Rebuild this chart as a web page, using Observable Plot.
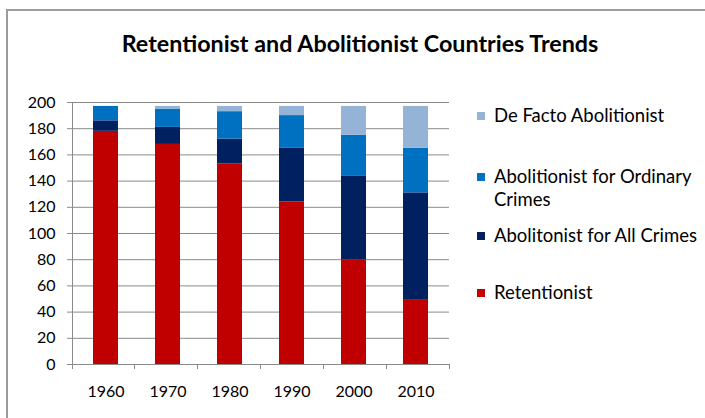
<!DOCTYPE html>
<html>
<head>
<meta charset="utf-8">
<script src="https://cdn.jsdelivr.net/npm/d3@7"></script>
<script src="https://cdn.jsdelivr.net/npm/@observablehq/plot@0.6"></script>
<style>
  html, body { margin: 0; padding: 0; background: #fff; }
  #wrap { position: relative; width: 705px; height: 418px; overflow: hidden; font-family: Lato, "Open Sans", sans-serif; color: #000; }
  #frame { position: absolute; left: 6px; top: 9px; width: 800px; height: 500px; border-left: 2px solid #9c9c9c; border-top: 2px solid #9c9c9c; }
  #title { position: absolute; left: 0; top: 28px; width: 720px; text-align: center; font-weight: bold; font-size: 23.3px; line-height: 30px; }
  #chart { position: absolute; left: 0; top: 0; }
  #legend { position: absolute; left: 476px; top: 104px; font-size: 18.5px; line-height: 23px; }
  .item { position: relative; padding-left: 18px; white-space: nowrap; }
  .item .sw { position: absolute; left: 1px; top: 7.5px; width: 8px; height: 8px; }
  .item:nth-child(2) { margin-top: 38px; }
  .item:nth-child(3) { margin-top: 13px; }
  .item:nth-child(4) { margin-top: 34px; }
</style>
</head>
<body>
<div id="wrap">
  <div id="frame"></div>
  <div id="chart"></div>
  <div id="title"></div>
  <div id="legend"></div>
</div>
<script>
// ---- data ----
const title = "Retentionist and Abolitionist Countries Trends";
const years = ["1960", "1970", "1980", "1990", "2000", "2010"];
const retentionist = [178, 168, 153, 124, 80, 49];
const abolitionistAll = [8, 13, 19, 41, 64, 82];
const abolitionistOrdinary = [11, 14, 21, 25, 31, 34];
const deFacto = [0, 2, 4, 7, 22, 32];
const seriesNames = ["Retentionist", "Abolitonist for All Crimes", "Abolitionist for Ordinary Crimes", "De Facto Abolitionist"];
const seriesValues = [retentionist, abolitionistAll, abolitionistOrdinary, deFacto];
const seriesColors = ["#C00000", "#002060", "#0070C0", "#95B3D7"];
const legendOrder = ["De Facto Abolitionist", "Abolitionist for Ordinary Crimes", "Abolitonist for All Crimes", "Retentionist"];
const legendLabels = ["De Facto Abolitionist", "Abolitionist for Ordinary<br>Crimes", "Abolitonist for All Crimes", "Retentionist"];
const yTicks = [0, 20, 40, 60, 80, 100, 120, 140, 160, 180, 200];

const rows = [];
seriesNames.forEach((s, si) => years.forEach((yr, i) => rows.push({series: s, year: yr, value: seriesValues[si][i]})));

const gridColor = "#8a8a8a";

// category boundary ticks + axis lines, derived from layout
function frameMarks(index, scales, values, dimensions) {
  const {width, marginLeft, marginRight} = dimensions;
  const left = marginLeft, right = width - marginRight;
  const y0 = scales.y(0), yTop = scales.y(yTicks[yTicks.length - 1]);
  const step = (right - left) / years.length;
  const g = d3.create("svg:g").attr("stroke", gridColor).attr("stroke-width", 1).attr("shape-rendering", "crispEdges");
  g.append("line").attr("x1", left).attr("x2", left).attr("y1", yTop).attr("y2", y0 + 5);
  g.append("line").attr("x1", left).attr("x2", right).attr("y1", y0).attr("y2", y0);
  for (let i = 1; i <= years.length; i++) {
    const x = left + i * step;
    g.append("line").attr("x1", x).attr("x2", x).attr("y1", y0).attr("y2", y0 + 5);
  }
  return g.node();
}

const plot = Plot.plot({
  width: 705,
  height: 418,
  marginLeft: 72,
  marginRight: 256,
  marginTop: 102,
  marginBottom: 54,
  style: {fontFamily: "Lato, 'Open Sans', sans-serif", fontSize: "16px", color: "#000", background: "transparent"},
  x: {domain: years, paddingInner: 0.6, paddingOuter: 0.3, axis: null, label: null},
  y: {domain: [0, 200], axis: null, label: null},
  color: {domain: seriesNames, range: seriesColors},
  marks: [
    Plot.gridY(yTicks.filter(d => d > 0), {stroke: gridColor, strokeOpacity: 1}),
    Plot.barY(rows, {x: "year", y: "value", fill: "series", order: seriesNames}),
    Plot.axisY({ticks: yTicks, tickSize: 5, tickPadding: 12, fontSize: 16, stroke: gridColor, fill: "#000", label: null}),
    Plot.axisX({tickSize: 0, tickPadding: 21, fontSize: 16, fill: "#000", label: null}),
    frameMarks
  ]
});
document.getElementById("chart").appendChild(plot);

document.getElementById("title").textContent = title;
const legend = document.getElementById("legend");
legendOrder.forEach((name, i) => {
  const item = document.createElement("div");
  item.className = "item";
  const sw = document.createElement("span");
  sw.className = "sw";
  sw.style.background = seriesColors[seriesNames.indexOf(name)];
  item.appendChild(sw);
  const t = document.createElement("span");
  t.innerHTML = legendLabels[i];
  item.appendChild(t);
  legend.appendChild(item);
});
</script>
</body>
</html>
